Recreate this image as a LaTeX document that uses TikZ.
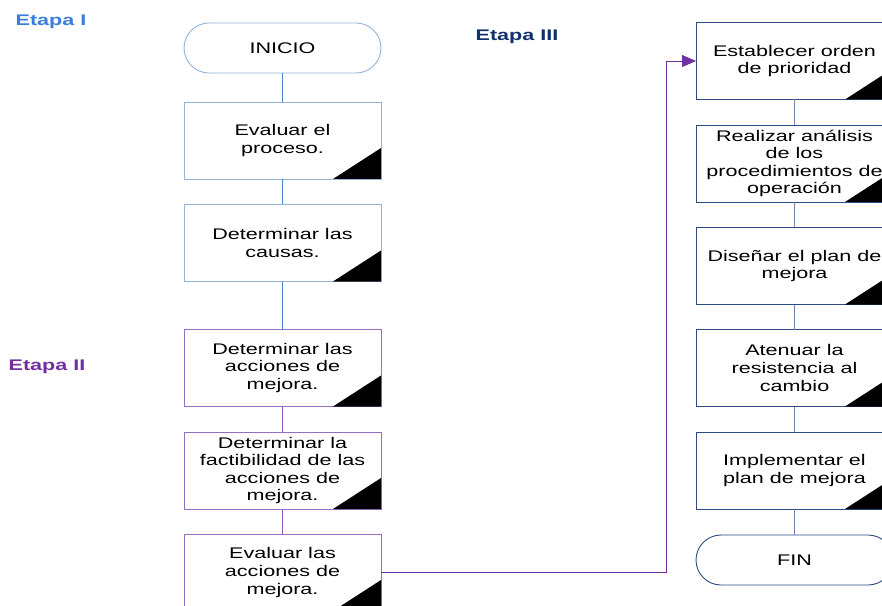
\documentclass[tikz,border=0pt]{standalone}
\usepackage{fontspec}
\setmainfont{Liberation Sans}[FakeStretch=1.4]
\usetikzlibrary{arrows.meta}
\definecolor{cI}{HTML}{3B7DD8}
\definecolor{bI}{HTML}{95B3D7}
\definecolor{lI}{HTML}{4A86D8}
\definecolor{cII}{HTML}{7030A0}
\definecolor{bII}{HTML}{9470C4}
\definecolor{lII}{HTML}{8A5CC0}
\definecolor{cIII}{HTML}{12306A}
\definecolor{bIII}{HTML}{2E4A80}
\definecolor{lIII}{HTML}{7384A9}
\tikzset{
  txt/.style={font=\fontsize{15.4bp}{17.6bp}\selectfont, align=center, text=black},
  box/.style={txt, draw, rectangle, minimum width=197bp, minimum height=77bp, inner sep=0pt, outer sep=0pt, fill=white, line width=0.9bp},
  term/.style={txt, draw, rectangle, rounded corners=25bp, minimum width=197bp, minimum height=50bp, inner sep=0pt, outer sep=0pt, fill=white, line width=0.9bp},
  stage/.style={font=\fontsize{15.4bp}{17.6bp}\selectfont\bfseries, inner sep=0pt},
  conn/.style={line width=0.9bp},
}
\newcommand{\blackcorner}[1]{\fill[black] (#1.south east) -- ++(-48,0) -- ++(48,-31) -- cycle;}
\begin{document}
\begin{tikzpicture}[x=1bp,y=-1bp]
\useasboundingbox (0,0) rectangle (882,606);
\clip (0,0) rectangle (882,606);
\fill[white] (0,0) rectangle (882,606);

% stage labels
\node[stage, text=cI] (s1) at (51,22) {Etapa I};
\node[stage, text=cII] (s2) at (47,367) {Etapa II};
\node[stage, text=cIII] (s3) at (517,37) {Etapa III};

% left column
\node[term, draw=bI] (ini) at (282.5,48) {INICIO};
\node[box, draw=bI] (b1) at (282.5,140.5) {Evaluar el\\proceso.};
\node[box, draw=bI] (b2) at (282.5,243) {Determinar las\\causas.};
\node[box, draw=bII] (b3) at (282.5,368) {Determinar las\\acciones de\\mejora.};
\node[box, draw=bII] (b4) at (282.5,470.5) {Determinar la\\factibilidad de las\\acciones de\\mejora.};
\node[box, draw=bII] (b5) at (282.5,572.5) {Evaluar las\\acciones de\\mejora.};

% right column
\node[box, draw=bIII] (r1) at (794.5,61) {Establecer orden\\de prioridad};
\node[box, draw=bIII] (r2) at (794.5,163.5) {Realizar análisis\\de los\\procedimientos de\\operación};
\node[box, draw=bIII] (r3) at (794.5,266) {Diseñar el plan de\\mejora};
\node[box, draw=bIII] (r4) at (794.5,368) {Atenuar la\\resistencia al\\cambio};
\node[box, draw=bIII] (r5) at (794.5,470.5) {Implementar el\\plan de mejora};
\node[term, draw=bIII] (fin) at (794.5,560) {FIN};

\foreach \n in {b1,b2,b3,b4,b5,r1,r2,r3,r4,r5} {\blackcorner{\n}}

% connectors
\draw[conn, lI] (ini) -- (b1);
\draw[conn, lI] (b1) -- (b2);
\draw[conn, lI] (b2) -- (b3);
\draw[conn, lII] (b3) -- (b4);
\draw[conn, lII] (b4) -- (b5);
\draw[conn, lIII] (r1) -- (r2);
\draw[conn, lIII] (r2) -- (r3);
\draw[conn, lIII] (r3) -- (r4);
\draw[conn, lIII] (r4) -- (r5);
\draw[conn, lIII] (r5) -- (fin);
\draw[conn, cII, -{Triangle[length=14bp,width=12bp]}] (b5.east) -- (666,572.5) |- (r1.west);
\end{tikzpicture}
\end{document}
